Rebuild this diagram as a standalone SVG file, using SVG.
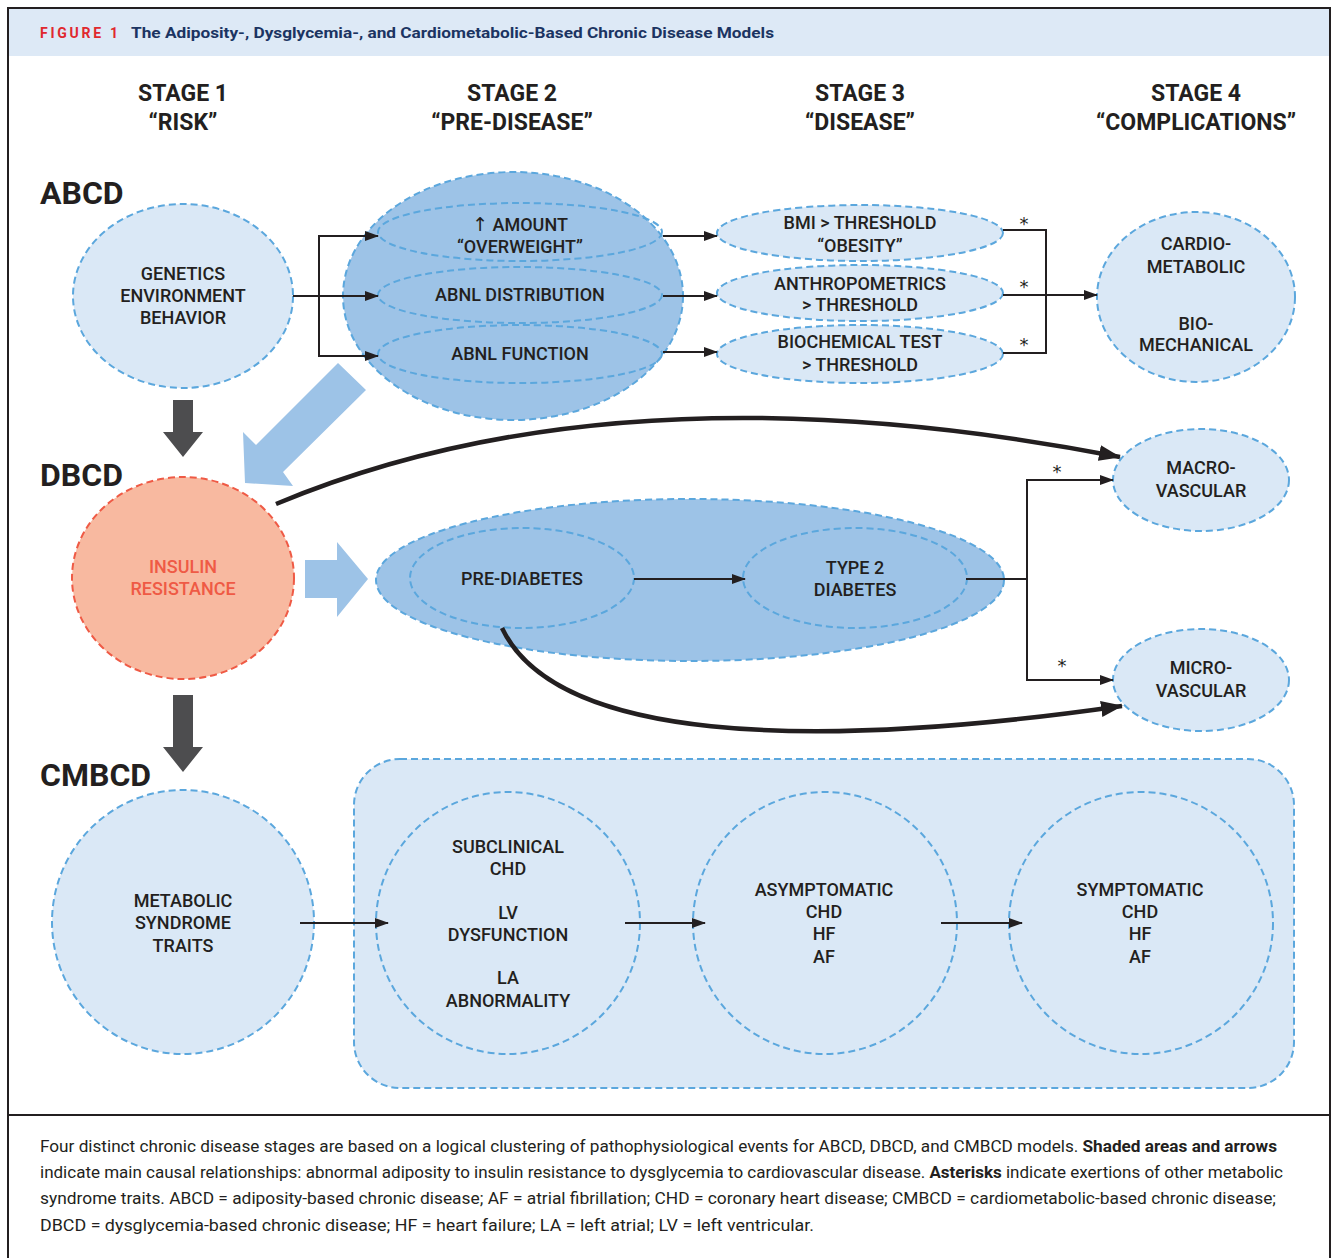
<svg xmlns="http://www.w3.org/2000/svg" width="1336" height="1258" viewBox="0 0 1336 1258">
<style>
.t{font-family:Roboto,"Liberation Sans",sans-serif;font-size:18px;font-weight:500;fill:#231f20;text-anchor:middle}
.h{font-family:Roboto,"Liberation Sans",sans-serif;font-size:23px;font-weight:700;fill:#231f20;text-anchor:middle}
.m{font-family:Roboto,"Liberation Sans",sans-serif;font-size:32px;font-weight:700;fill:#231f20}
.cap{font-family:Roboto,"Liberation Sans",sans-serif;font-size:16px;fill:#231f20}
.lt{fill:#dae8f6;stroke:#5ba7dd;stroke-width:2;stroke-dasharray:7 4}
.md{fill:#9dc3e7;stroke:#5ba7dd;stroke-width:2;stroke-dasharray:7 4}
.in{fill:none;stroke:#5ba7dd;stroke-width:2;stroke-dasharray:7 4}
.c{fill:none;stroke:#231f20;stroke-width:2}
.thick{fill:none;stroke:#231f20;stroke-width:4.5}
</style>
<defs>
<marker id="a" viewBox="0 0 14 10" refX="13" refY="5" markerWidth="14" markerHeight="10" markerUnits="userSpaceOnUse" orient="auto"><path d="M0,0 L14,5 L0,10 Z" fill="#231f20"/></marker>
<marker id="ab" viewBox="0 0 22 16" refX="21" refY="8" markerWidth="22" markerHeight="16" markerUnits="userSpaceOnUse" orient="auto"><path d="M0,0 L22,8 L0,16 Z" fill="#231f20"/></marker>
</defs>
<rect x="0" y="0" width="1336" height="1258" fill="#ffffff"/>
<!-- frame -->
<g id="frame">
<rect x="9" y="9" width="1321" height="47" fill="#dde9f6"/>
<path d="M8,1258 V8 H1330 V1258" fill="none" stroke="#231f20" stroke-width="2"/>
<line x1="8" y1="1115" x2="1330" y2="1115" stroke="#231f20" stroke-width="2"/>
<text x="40" y="38" font-family="Roboto,'Liberation Sans',sans-serif" font-size="14" font-weight="700" fill="#e0282e" textLength="78" lengthAdjust="spacing">FIGURE 1</text>
<text x="131" y="38" font-family="Roboto,'Liberation Sans',sans-serif" font-size="15" font-weight="700" fill="#1b3462" textLength="643" lengthAdjust="spacingAndGlyphs">The Adiposity-, Dysglycemia-, and Cardiometabolic-Based Chronic Disease Models</text>
</g>
<!-- headings -->
<g id="stage-headings">
<text class="h" x="183" y="101">STAGE 1</text><text class="h" x="183" y="130">“RISK”</text>
<text class="h" x="512" y="101">STAGE 2</text><text class="h" x="512" y="130">“PRE-DISEASE”</text>
<text class="h" x="860" y="101">STAGE 3</text><text class="h" x="860" y="130">“DISEASE”</text>
<text class="h" x="1196" y="101">STAGE 4</text><text class="h" x="1196" y="130">“COMPLICATIONS”</text>
</g>
<g id="model-labels">
<text class="m" x="40" y="204">ABCD</text>
<text class="m" x="40" y="486">DBCD</text>
<text class="m" x="40" y="786">CMBCD</text>
</g>
<!-- big arrows -->
<g id="causal-arrows">
<polygon points="245,483 243,432 256,445 338,363 366,390 283,472 293,486" fill="#9dc3e7"/>
<polygon points="305,560 337,560 337,542 368,579 337,617 337,598 305,598" fill="#9dc3e7"/>
<polygon points="173,400 193,400 193,432 203,432 183,457 163,432 173,432" fill="#4d4d4f"/>
<polygon points="173,695 193,695 193,747 203,747 183,772 163,747 173,747" fill="#4d4d4f"/>
</g>
<!-- ABCD -->
<g id="n-genetics">
<ellipse class="lt" cx="183" cy="296" rx="110" ry="92"/>
<text class="t" x="183" y="280">GENETICS</text><text class="t" x="183" y="302">ENVIRONMENT</text><text class="t" x="183" y="324">BEHAVIOR</text>
</g>
<g id="n-prediseaseA">
<ellipse class="md" cx="513" cy="296" rx="170" ry="124"/>
</g>
<g id="n-amount">
<ellipse class="in" cx="520" cy="232" rx="142" ry="29"/>
<text class="t" x="520" y="231"><tspan font-family="'DejaVu Sans',sans-serif" font-weight="400" font-size="19">↑</tspan> AMOUNT</text><text class="t" x="520" y="253">“OVERWEIGHT”</text>
</g>
<g id="n-distribution">
<ellipse class="in" cx="520" cy="295" rx="142" ry="28"/>
<text class="t" x="520" y="301">ABNL DISTRIBUTION</text>
</g>
<g id="n-function">
<ellipse class="in" cx="520" cy="354" rx="142" ry="29"/>
<text class="t" x="520" y="360">ABNL FUNCTION</text>
</g>
<g id="n-bmi">
<ellipse class="lt" cx="860" cy="233" rx="143" ry="28"/>
<text class="t" x="860" y="229">BMI &gt; THRESHOLD</text><text class="t" x="860" y="252">“OBESITY”</text>
</g>
<g id="n-anthro">
<ellipse class="lt" cx="860" cy="293" rx="143" ry="28"/>
<text class="t" x="860" y="290">ANTHROPOMETRICS</text><text class="t" x="860" y="311">&gt; THRESHOLD</text>
</g>
<g id="n-biochem">
<ellipse class="lt" cx="860" cy="354" rx="143" ry="29"/>
<text class="t" x="860" y="348">BIOCHEMICAL TEST</text><text class="t" x="860" y="371">&gt; THRESHOLD</text>
</g>
<g id="n-cardio">
<ellipse class="lt" cx="1196" cy="297" rx="99" ry="85"/>
<text class="t" x="1196" y="250">CARDIO-</text><text class="t" x="1196" y="273">METABOLIC</text>
<text class="t" x="1196" y="330">BIO-</text><text class="t" x="1196" y="351">MECHANICAL</text>
</g>
<!-- DBCD -->
<g id="n-insulin">
<ellipse cx="183" cy="578" rx="111" ry="101" fill="#f8b9a0" stroke="#ef5a45" stroke-width="2" stroke-dasharray="7 4"/>
<text class="t" x="183" y="573" style="fill:#ef5a45">INSULIN</text><text class="t" x="183" y="595" style="fill:#ef5a45">RESISTANCE</text>
</g>
<g id="n-dysglycemia">
<ellipse class="md" cx="690" cy="580" rx="314" ry="81"/>
</g>
<g id="n-prediabetes">
<ellipse class="in" cx="522" cy="578" rx="112" ry="50"/>
<text class="t" x="522" y="585">PRE-DIABETES</text>
</g>
<g id="n-t2d">
<ellipse class="in" cx="855" cy="578" rx="112" ry="50"/>
<text class="t" x="855" y="574">TYPE 2</text><text class="t" x="855" y="596">DIABETES</text>
</g>
<g id="n-macro">
<ellipse class="lt" cx="1201" cy="480" rx="88" ry="51"/>
<text class="t" x="1201" y="474">MACRO-</text><text class="t" x="1201" y="497">VASCULAR</text>
</g>
<g id="n-micro">
<ellipse class="lt" cx="1201" cy="680" rx="88" ry="51"/>
<text class="t" x="1201" y="674">MICRO-</text><text class="t" x="1201" y="697">VASCULAR</text>
</g>
<!-- CMBCD -->
<g id="n-metsyn">
<ellipse class="lt" cx="183" cy="922" rx="131" ry="132"/>
<text class="t" x="183" y="907">METABOLIC</text><text class="t" x="183" y="929">SYNDROME</text><text class="t" x="183" y="952">TRAITS</text>
</g>
<g id="n-cvd">
<rect class="lt" x="354" y="759" width="940" height="329" rx="46"/>
</g>
<g id="n-subclinical">
<ellipse class="in" cx="508" cy="923" rx="132" ry="131"/>
<text class="t" x="508" y="853">SUBCLINICAL</text><text class="t" x="508" y="875">CHD</text>
<text class="t" x="508" y="919">LV</text><text class="t" x="508" y="941">DYSFUNCTION</text>
<text class="t" x="508" y="984">LA</text><text class="t" x="508" y="1007">ABNORMALITY</text>
</g>
<g id="n-asymptomatic">
<ellipse class="in" cx="825" cy="923" rx="132" ry="131"/>
<text class="t" x="824" y="896">ASYMPTOMATIC</text><text class="t" x="824" y="918">CHD</text><text class="t" x="824" y="940">HF</text><text class="t" x="824" y="963">AF</text>
</g>
<g id="n-symptomatic">
<ellipse class="in" cx="1141" cy="923" rx="132" ry="131"/>
<text class="t" x="1140" y="896">SYMPTOMATIC</text><text class="t" x="1140" y="918">CHD</text><text class="t" x="1140" y="940">HF</text><text class="t" x="1140" y="963">AF</text>
</g>
<!-- connectors -->
<g id="connectors">
<path class="c" d="M293,296 H378" marker-end="url(#a)"/>
<path class="c" d="M378,236 H319 V356 H378" marker-end="url(#a)"/>
<path class="c" d="M319,236 H378" marker-end="url(#a)"/>
<path class="c" d="M663,236 H717" marker-end="url(#a)"/>
<path class="c" d="M663,296 H717" marker-end="url(#a)"/>
<path class="c" d="M663,352 H717" marker-end="url(#a)"/>
<path class="c" d="M1003,230 H1046 V353 H1003"/>
<path class="c" d="M1003,295 H1097" marker-end="url(#a)"/>
<path class="c" d="M634,579 H745" marker-end="url(#a)"/>
<path class="c" d="M966,579 H1027"/>
<path class="c" d="M1113,480 H1027 V680 H1113" marker-end="url(#a)"/>
<path class="c" d="M1027,480 H1113" marker-end="url(#a)"/>
<path class="thick" d="M276,504 Q620,360 1120,457" marker-end="url(#ab)"/>
<path class="thick" d="M502,628 C555,740 800,752 1122,706" marker-end="url(#ab)"/>
<path class="c" d="M300,923 H388" marker-end="url(#a)"/>
<path class="c" d="M625,923 H705" marker-end="url(#a)"/>
<path class="c" d="M941,923 H1022" marker-end="url(#a)"/>
<g font-family="'DejaVu Sans',sans-serif" font-size="18" fill="#231f20" text-anchor="middle">
<text x="1024" y="230">*</text><text x="1024" y="293">*</text><text x="1024" y="351">*</text>
<text x="1057" y="478">*</text><text x="1062" y="672">*</text>
</g>
</g>
<!-- caption -->
<g id="caption" class="cap">
<text x="40" y="1152" textLength="1237" lengthAdjust="spacingAndGlyphs">Four distinct chronic disease stages are based on a logical clustering of pathophysiological events for ABCD, DBCD, and CMBCD models. <tspan font-weight="700">Shaded areas and arrows</tspan></text>
<text x="40" y="1178" textLength="1243" lengthAdjust="spacingAndGlyphs">indicate main causal relationships: abnormal adiposity to insulin resistance to dysglycemia to cardiovascular disease. <tspan font-weight="700">Asterisks</tspan> indicate exertions of other metabolic</text>
<text x="40" y="1204" textLength="1236" lengthAdjust="spacingAndGlyphs">syndrome traits. ABCD = adiposity-based chronic disease; AF = atrial fibrillation; CHD = coronary heart disease; CMBCD = cardiometabolic-based chronic disease;</text>
<text x="40" y="1231" textLength="774" lengthAdjust="spacingAndGlyphs">DBCD = dysglycemia-based chronic disease; HF = heart failure; LA = left atrial; LV = left ventricular.</text>
</g>
</svg>
